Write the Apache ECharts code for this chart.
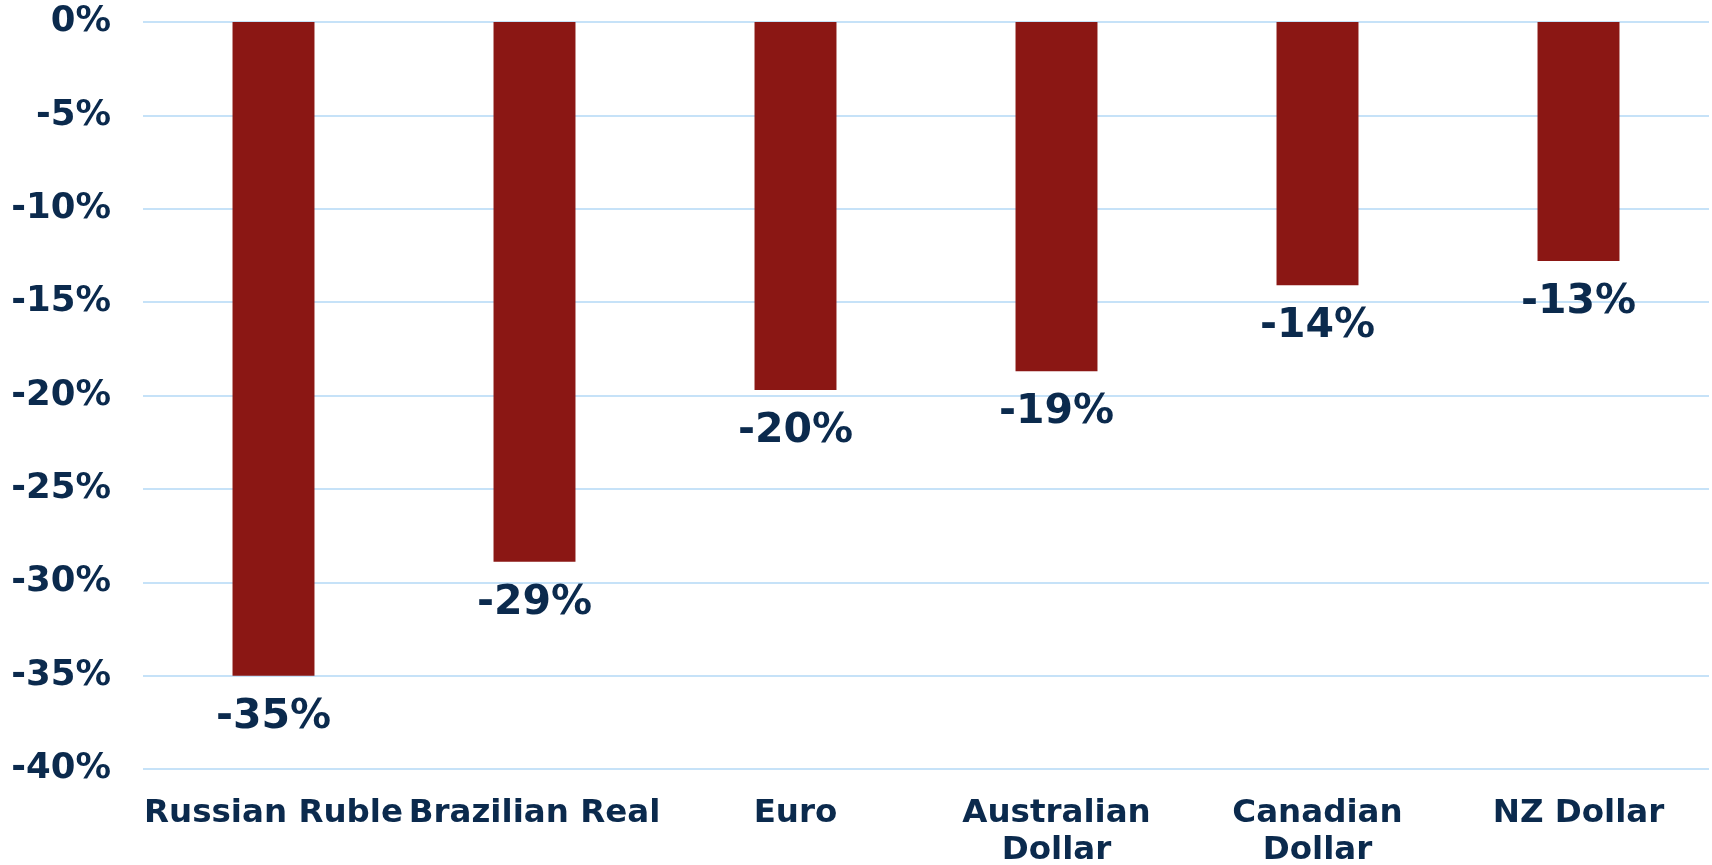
<!DOCTYPE html>
<html>
<head>
<meta charset="utf-8">
<script src="https://cdn.jsdelivr.net/npm/echarts@6/dist/echarts.min.js"></script>
<style>
  html, body { margin: 0; padding: 0; background: #fff; }
  #chart { width: 1712px; height: 865px; }
</style>
</head>
<body>
<div id="chart"></div>
<script>
// currency names (line breaks as in the original labels)
const currencies = ['Russian Ruble', 'Brazilian Real', 'Euro', 'Australian\nDollar', 'Canadian\nDollar', 'NZ Dollar']
// change vs USD, %
const changes = [-35.0, -28.9, -19.7, -18.7, -14.1, -12.8]

const navy = '#0b2a4d'
const font = 'DejaVu Sans'

const chart = echarts.init(document.getElementById('chart'))

const option = {
  animation: false,
  grid: {
    left: 143,
    right: 3,
    top: 22,
    bottom: 96,
    containLabel: false,
    outerBoundsMode: 'none',
  },
  xAxis: {
    type: 'category',
    data: currencies,
    axisLine: { show: false, onZero: false },
    axisTick: { show: false },
    axisLabel: {
      interval: 0,
      margin: 26,
      color: navy,
      fontFamily: font,
      fontWeight: 'bold',
      fontSize: 32.5,
      lineHeight: 37,
    },
  },
  yAxis: {
    type: 'value',
    min: -40,
    max: 0,
    interval: 5,
    axisLine: { show: false },
    axisTick: { show: false },
    splitLine: {
      lineStyle: { color: '#c6e2f8', width: 2 },
    },
    axisLabel: {
      margin: 32,
      color: navy,
      fontFamily: font,
      fontWeight: 'bold',
      fontSize: 35.5,
      formatter: '{value}%',
    },
  },
  series: [
    {
      type: 'bar',
      data: changes,
      barWidth: '31.4%',
      itemStyle: { color: '#8b1714' },
      label: {
        show: true,
        position: 'bottom',
        distance: 21,
        color: navy,
        fontFamily: font,
        fontWeight: 'bold',
        fontSize: 41,
        formatter: (p) => Math.round(p.value) + '%',
      },
    },
  ],
}

chart.setOption(option)
</script>
</body>
</html>
